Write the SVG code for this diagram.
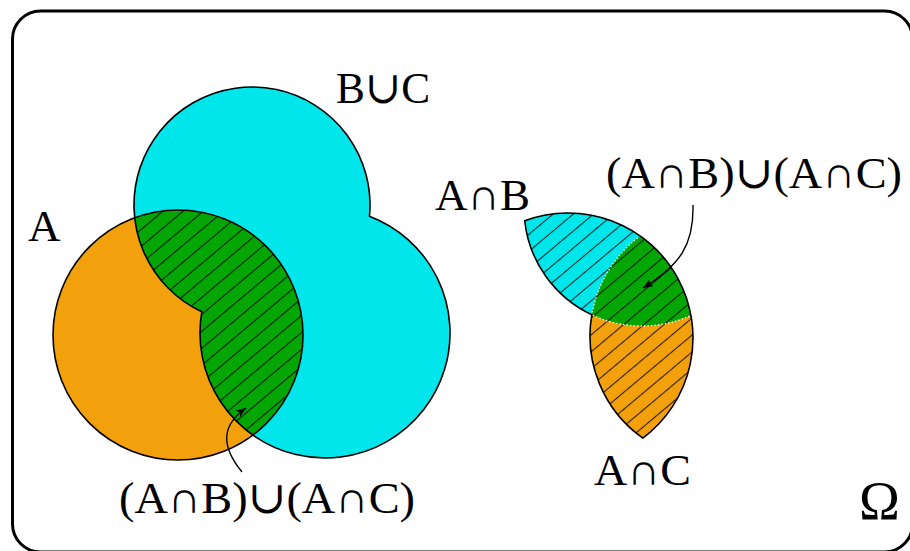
<svg xmlns="http://www.w3.org/2000/svg" width="910" height="551" viewBox="0 0 910 551">
<defs>
<style>
.lbl{font-family:"Liberation Serif","DejaVu Serif",serif;font-size:45px;fill:#000}
.out{fill:none;stroke:#000;stroke-width:1.6}
.dot{fill:none;stroke:#fff;stroke-width:1.3;stroke-dasharray:1.3 2.2}
.arr{fill:none;stroke:#000;stroke-width:1.4;marker-end:url(#ah)}
.cy{fill:#00e6ea}
.or{fill:#f2a00c}
.gr{fill:#03a603}
</style>
<pattern id="hatch" patternUnits="userSpaceOnUse" width="13" height="13" patternTransform="rotate(-40)">
<line x1="-1" y1="6.5" x2="14" y2="6.5" stroke="#000" stroke-width="1.1" stroke-opacity="0.8"/>
</pattern>
<marker id="ah" markerUnits="userSpaceOnUse" markerWidth="12" markerHeight="10" refX="10" refY="4" orient="auto">
<path d="M0,0 L10,4 L0,8 L2.5,4 Z" fill="#000"/>
</marker>
<clipPath id="cA"><circle cx="178" cy="335" r="125"/></clipPath>
<clipPath id="cB"><circle cx="252" cy="205" r="118"/></clipPath>
<clipPath id="cC"><circle cx="325" cy="333" r="125"/></clipPath>
<path id="lensAll" d="M134.689,217.743 A125,125 0 0 1 252.875,435.093 A125,125 0 0 1 201.812,311.794 A118,118 0 0 1 134.689,217.743 Z"/>
</defs>
<rect width="910" height="551" fill="#fff"/>
<g id="omega">
<rect x="12.5" y="11" width="900" height="541" rx="28" fill="none" stroke="#000" stroke-width="3"/>
</g>
<g id="B-union-C">
<circle class="cy" cx="252" cy="205" r="118"/>
<circle class="cy" cx="325" cy="333" r="125"/>
</g>
<g id="set-A">
<circle class="or" cx="178" cy="335" r="125"/>
</g>
<g id="A-cap-BuC">
<use href="#lensAll" class="gr"/>
<use href="#lensAll" fill="url(#hatch)"/>
</g>
<g id="outlines-left">
<path class="out" d="M369.468,216.178 A118,118 0 1 0 201.812,311.794 A125,125 0 1 0 369.468,216.178 Z"/>
<circle class="out" cx="178" cy="335" r="125"/>
</g>
<g id="right-figure" transform="translate(390,3)">
<g id="AcapB" clip-path="url(#cA)"><circle class="cy" cx="252" cy="205" r="118"/></g>
<g id="AcapC" clip-path="url(#cA)"><circle class="or" cx="325" cy="333" r="125"/></g>
<g id="AcapBcapC" clip-path="url(#cA)"><g clip-path="url(#cC)"><circle class="gr" cx="252" cy="205" r="118"/></g></g>
<use href="#lensAll" fill="url(#hatch)"/>
<g clip-path="url(#cA)"><g clip-path="url(#cB)"><circle class="dot" cx="325" cy="333" r="125"/></g></g>
<g clip-path="url(#cA)"><g clip-path="url(#cC)"><circle class="dot" cx="252" cy="205" r="118"/></g></g>
<use href="#lensAll" class="out"/>
</g>
<g id="connectors">
<path class="arr" d="M242,472 C220,445 222,425 246,408"/>
<path class="arr" d="M693,205 C694,245 680,265 643,288"/>
</g>
<g id="labels">
<text class="lbl" x="336" y="103" textLength="94" lengthAdjust="spacingAndGlyphs">B∪C</text>
<text class="lbl" x="28" y="241">A</text>
<text class="lbl" x="435" y="210" textLength="95" lengthAdjust="spacingAndGlyphs">A∩B</text>
<text class="lbl" x="606" y="188" textLength="296" lengthAdjust="spacingAndGlyphs">(A∩B)∪(A∩C)</text>
<text class="lbl" x="594" y="485" textLength="97" lengthAdjust="spacingAndGlyphs">A∩C</text>
<text class="lbl" x="119" y="513" textLength="296" lengthAdjust="spacingAndGlyphs">(A∩B)∪(A∩C)</text>
<text class="lbl" x="859" y="519" style="font-size:55px">Ω</text>
</g>
</svg>
